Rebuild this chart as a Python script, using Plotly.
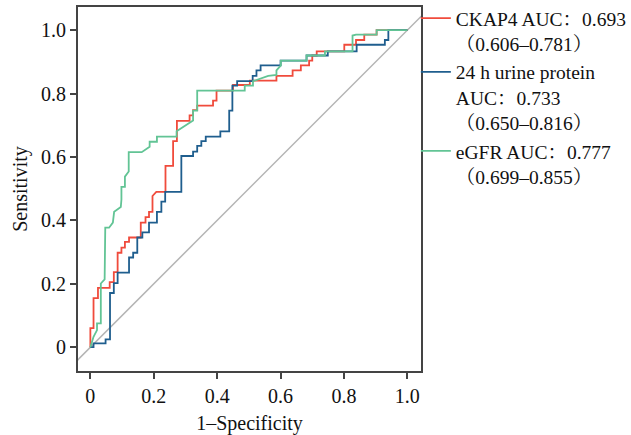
import plotly.graph_objects as go

# ROC curve vertices (1-Specificity, Sensitivity)
ckap4_fpr = [0, 0, 0.010, 0.010, 0.024, 0.024, 0.061, 0.061, 0.074, 0.074, 0.086, 0.086,
             0.098, 0.098, 0.109, 0.109, 0.122, 0.122, 0.159, 0.159, 0.174, 0.174, 0.185, 0.185,
             0.196, 0.196, 0.208, 0.237, 0.237, 0.261, 0.261, 0.273, 0.273, 0.313, 0.313, 0.324,
             0.324, 0.337, 0.337, 0.387, 0.387, 0.398, 0.398, 0.450, 0.450, 0.503, 0.503, 0.587,
             0.587, 0.638, 0.638, 0.664, 0.664, 0.690, 0.690, 0.700, 0.700, 0.714, 0.714, 0.801,
             0.801, 0.838, 0.838, 0.864, 0.864, 0.903, 0.903, 1.0]
ckap4_tpr = [0, 0.060, 0.060, 0.155, 0.155, 0.187, 0.187, 0.205, 0.205, 0.237, 0.237, 0.298,
             0.298, 0.314, 0.314, 0.332, 0.332, 0.346, 0.346, 0.393, 0.393, 0.410, 0.410, 0.427,
             0.427, 0.477, 0.490, 0.490, 0.572, 0.572, 0.650, 0.650, 0.714, 0.714, 0.731, 0.731,
             0.748, 0.748, 0.762, 0.762, 0.778, 0.778, 0.809, 0.809, 0.827, 0.827, 0.841, 0.841,
             0.856, 0.856, 0.873, 0.873, 0.889, 0.889, 0.904, 0.904, 0.920, 0.920, 0.933, 0.933,
             0.954, 0.954, 0.969, 0.969, 0.986, 0.986, 1.0, 1.0]

urine_fpr = [0, 0.010, 0.010, 0.048, 0.048, 0.062, 0.062, 0.074, 0.074, 0.086, 0.086, 0.122,
             0.122, 0.135, 0.135, 0.148, 0.148, 0.164, 0.164, 0.185, 0.185, 0.210, 0.210, 0.224,
             0.224, 0.236, 0.236, 0.287, 0.287, 0.324, 0.324, 0.337, 0.337, 0.350, 0.350, 0.364,
             0.364, 0.410, 0.410, 0.438, 0.438, 0.448, 0.448, 0.463, 0.463, 0.512, 0.512, 0.524,
             0.524, 0.537, 0.537, 0.600, 0.600, 0.682, 0.682, 0.749, 0.749, 0.840, 0.840, 0.929,
             0.929, 0.940, 0.940, 1.0]
urine_tpr = [0, 0, 0.012, 0.012, 0.025, 0.025, 0.171, 0.171, 0.202, 0.202, 0.235, 0.235,
             0.283, 0.283, 0.298, 0.298, 0.346, 0.346, 0.362, 0.362, 0.393, 0.393, 0.427, 0.427,
             0.459, 0.459, 0.490, 0.490, 0.603, 0.603, 0.617, 0.617, 0.635, 0.635, 0.650, 0.650,
             0.664, 0.664, 0.681, 0.681, 0.746, 0.746, 0.825, 0.825, 0.839, 0.839, 0.856, 0.856,
             0.873, 0.873, 0.889, 0.889, 0.904, 0.904, 0.920, 0.920, 0.933, 0.933, 0.954, 0.954,
             0.969, 0.969, 1.0, 1.0]

egfr_fpr = [0, 0.010, 0.021, 0.021, 0.033, 0.033, 0.045, 0.047, 0.059, 0.071, 0.075, 0.096,
            0.098, 0.098, 0.109, 0.109, 0.121, 0.121, 0.162, 0.187, 0.187, 0.210, 0.210, 0.272,
            0.272, 0.298, 0.324, 0.324, 0.337, 0.337, 0.487, 0.487, 0.513, 0.513, 0.561, 0.587,
            0.587, 0.601, 0.601, 0.682, 0.682, 0.740, 0.740, 0.827, 0.827, 0.838, 0.903, 0.903, 1.0]
egfr_tpr = [0, 0.033, 0.054, 0.075, 0.075, 0.201, 0.214, 0.377, 0.377, 0.393, 0.427, 0.442,
            0.466, 0.506, 0.506, 0.538, 0.554, 0.615, 0.615, 0.632, 0.648, 0.648, 0.664, 0.664,
            0.681, 0.698, 0.715, 0.746, 0.746, 0.809, 0.809, 0.825, 0.825, 0.839, 0.856, 0.859,
            0.873, 0.889, 0.904, 0.904, 0.920, 0.920, 0.933, 0.933, 0.983, 0.986, 0.986, 1.0, 1.0]

ref_line = [-0.2, 1.2]

series_names = [
    "CKAP4 AUC：0.693<br>（0.606–0.781）",
    "24 h urine protein<br>AUC：0.733<br>（0.650–0.816）",
    "eGFR AUC：0.777<br>（0.699–0.855）",
]
series_colors = ["#F04B3C", "#1F5E8E", "#62C495"]

tick_vals = [0, 0.2, 0.4, 0.6, 0.8, 1.0]
tick_text = ["0", "0.2", "0.4", "0.6", "0.8", "1.0"]

FONT = "Liberation Serif, Times New Roman, Noto Serif CJK SC, Noto Sans CJK SC, serif"

fig = go.Figure()
fig.add_trace(go.Scatter(x=ref_line, y=ref_line, mode="lines",
                         line=dict(color="#B4B4B4", width=1.5),
                         showlegend=False, hoverinfo="skip"))
for fx, fy, name, col in zip([ckap4_fpr, urine_fpr, egfr_fpr],
                             [ckap4_tpr, urine_tpr, egfr_tpr],
                             series_names, series_colors):
    fig.add_trace(go.Scatter(x=fx, y=fy, mode="lines", name=name,
                             line=dict(color=col, width=1.8)))

axis_common = dict(
    showline=True, linecolor="#444444", linewidth=2, mirror=True,
    ticks="outside", ticklen=6, tickwidth=2, tickcolor="#444444",
    showgrid=False, zeroline=False, automargin=False,
    tickvals=tick_vals, ticktext=tick_text,
    tickfont=dict(family=FONT, size=20, color="#111111"),
)

fig.update_layout(
    template="none",
    width=631, height=435,
    margin=dict(l=78, r=210, t=7, b=64, autoexpand=False),
    paper_bgcolor="white", plot_bgcolor="white",
    font=dict(family=FONT, size=20, color="#111111"),
    xaxis=dict(range=[-0.039, 1.043], title=dict(text="1–Specificity", standoff=10,
                                                 font=dict(family=FONT, size=20)),
               **axis_common),
    yaxis=dict(range=[-0.075, 1.073], title=dict(text="Sensitivity", standoff=8,
                                                 font=dict(family=FONT, size=20)),
               **axis_common),
    legend=dict(x=0.985, xanchor="left", y=1.022, yanchor="top",
                valign="top", bgcolor="rgba(0,0,0,0)",
                font=dict(family=FONT, size=19.5, color="#111111"),
                itemwidth=30, tracegroupgap=0),
)

fig.write_html("out.html", config={"displayModeBar": False},
               post_script="document.body.style.margin='0px';")
